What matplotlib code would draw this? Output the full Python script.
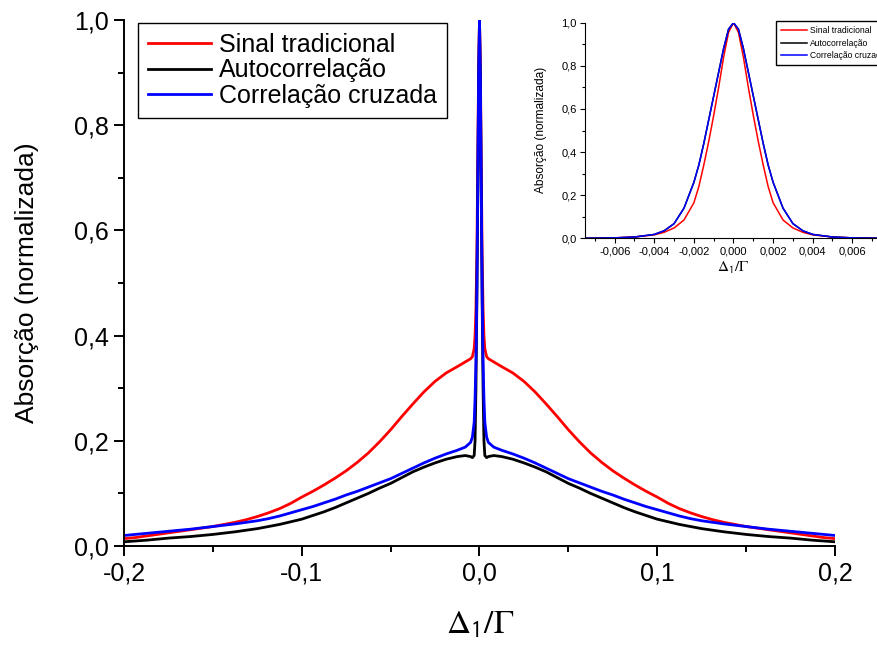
import matplotlib
matplotlib.use('Agg')
import matplotlib.pyplot as plt
from matplotlib.ticker import MultipleLocator, FuncFormatter

# main plot: detuning (Delta_1 / Gamma) and normalized absorption
X_MAIN = [-0.2, -0.19375, -0.1875, -0.18125, -0.175, -0.16875, -0.1625, -0.15625, -0.15, -0.14375,
          -0.1375, -0.13125, -0.125, -0.11875, -0.1125, -0.10625, -0.1, -0.09375, -0.0875, -0.08125,
          -0.075, -0.06875, -0.0625, -0.05625, -0.05, -0.04375, -0.0375, -0.03125, -0.025, -0.01875,
          -0.0125, -0.008, -0.005, -0.004, -0.003, -0.0025, -0.002, -0.0015, -0.001, -0.0005,
          0.0,
          0.0005, 0.001, 0.0015, 0.002, 0.0025, 0.003, 0.004, 0.005, 0.008, 0.0125,
          0.01875, 0.025, 0.03125, 0.0375, 0.04375, 0.05, 0.05625, 0.0625, 0.06875, 0.075,
          0.08125, 0.0875, 0.09375, 0.1, 0.10625, 0.1125, 0.11875, 0.125, 0.13125, 0.1375,
          0.14375, 0.15, 0.15625, 0.1625, 0.16875, 0.175, 0.18125, 0.1875, 0.19375, 0.2]
SINAL = [0.014, 0.016, 0.019, 0.022, 0.025, 0.028, 0.031, 0.034, 0.037, 0.041,
         0.045, 0.050, 0.056, 0.063, 0.071, 0.081, 0.093, 0.104, 0.116, 0.129,
         0.143, 0.159, 0.177, 0.198, 0.221, 0.246, 0.270, 0.293, 0.313, 0.329,
         0.341, 0.350, 0.356, 0.360, 0.375, 0.40, 0.45, 0.55, 0.72, 0.91,
         1.0,
         0.91, 0.72, 0.55, 0.45, 0.40, 0.375, 0.360, 0.356, 0.350, 0.341,
         0.329, 0.313, 0.293, 0.270, 0.246, 0.221, 0.198, 0.177, 0.159, 0.143,
         0.129, 0.116, 0.104, 0.093, 0.081, 0.071, 0.063, 0.056, 0.050, 0.045,
         0.041, 0.037, 0.034, 0.031, 0.028, 0.025, 0.022, 0.019, 0.016, 0.014]
AUTO = [0.008, 0.0095, 0.011, 0.013, 0.015, 0.0165, 0.018, 0.020, 0.022, 0.0245,
        0.027, 0.030, 0.033, 0.037, 0.041, 0.046, 0.051, 0.058, 0.065, 0.073,
        0.082, 0.091, 0.100, 0.110, 0.119, 0.130, 0.141, 0.150, 0.158, 0.165,
        0.170, 0.172, 0.170, 0.168, 0.172, 0.20, 0.30, 0.46, 0.66, 0.88,
        1.0,
        0.88, 0.66, 0.46, 0.30, 0.20, 0.172, 0.168, 0.170, 0.172, 0.170,
        0.165, 0.158, 0.150, 0.141, 0.130, 0.119, 0.110, 0.100, 0.091, 0.082,
        0.073, 0.065, 0.058, 0.051, 0.046, 0.041, 0.037, 0.033, 0.030, 0.027,
        0.0245, 0.022, 0.020, 0.018, 0.0165, 0.015, 0.013, 0.011, 0.0095, 0.008]
CRUZ = [0.020, 0.022, 0.024, 0.026, 0.028, 0.030, 0.032, 0.0345, 0.037, 0.0395,
        0.042, 0.045, 0.048, 0.052, 0.057, 0.063, 0.069, 0.075, 0.082, 0.089,
        0.097, 0.104, 0.112, 0.120, 0.128, 0.138, 0.148, 0.158, 0.167, 0.175,
        0.182, 0.188, 0.197, 0.207, 0.235, 0.28, 0.35, 0.48, 0.68, 0.89,
        1.0,
        0.89, 0.68, 0.48, 0.35, 0.28, 0.235, 0.207, 0.197, 0.188, 0.182,
        0.175, 0.167, 0.158, 0.148, 0.138, 0.128, 0.120, 0.112, 0.104, 0.097,
        0.089, 0.082, 0.075, 0.069, 0.063, 0.057, 0.052, 0.048, 0.045, 0.042,
        0.0395, 0.037, 0.0345, 0.032, 0.030, 0.028, 0.026, 0.024, 0.022, 0.020]

# inset: zoom on the narrow central peak
X_INSET = [-0.0075, -0.006, -0.005, -0.004, -0.0035, -0.003, -0.0025, -0.002, -0.00175, -0.0015,
           -0.00125, -0.001, -0.00075, -0.0005, -0.00025, 0.0, 0.00025, 0.0005, 0.00075, 0.001,
           0.00125, 0.0015, 0.00175, 0.002, 0.0025, 0.003, 0.0035, 0.004, 0.005, 0.006, 0.0075]
SINAL_IN = [0.0, 0.002, 0.006, 0.016, 0.028, 0.048, 0.085, 0.165, 0.24, 0.34,
            0.45, 0.57, 0.70, 0.84, 0.955, 1.0, 0.955, 0.84, 0.70, 0.57,
            0.45, 0.34, 0.24, 0.165, 0.085, 0.048, 0.028, 0.016, 0.006, 0.002, 0.0]
AUTO_IN = [0.0, 0.002, 0.006, 0.018, 0.035, 0.068, 0.14, 0.26, 0.34, 0.44,
           0.55, 0.66, 0.77, 0.88, 0.97, 1.0, 0.97, 0.88, 0.77, 0.66,
           0.55, 0.44, 0.34, 0.26, 0.14, 0.068, 0.035, 0.018, 0.006, 0.002, 0.0]
CRUZ_IN = [0.0, 0.002, 0.006, 0.018, 0.035, 0.068, 0.14, 0.26, 0.34, 0.44,
           0.55, 0.66, 0.77, 0.88, 0.97, 1.0, 0.97, 0.88, 0.77, 0.66,
           0.55, 0.44, 0.34, 0.26, 0.14, 0.068, 0.035, 0.018, 0.006, 0.002, 0.0]

LABELS = ['Sinal tradicional', 'Autocorrelação', 'Correlação cruzada']
COLORS = ['#ff0000', '#000000', '#0000ff']

plt.rcParams['font.family'] = ['Liberation Sans', 'DejaVu Sans']
plt.rcParams['mathtext.fontset'] = 'stix'

W, H = 878, 651
fig = plt.figure(figsize=(W / 100, H / 100), dpi=100)


def comma(fmt):
    return FuncFormatter(lambda v, p: fmt.format(v).replace('.', ','))


def style(ax, lw, major, minor, fs, pad):
    for s in ['top', 'right']:
        ax.spines[s].set_visible(False)
    for s in ['left', 'bottom']:
        ax.spines[s].set_linewidth(lw)
    ax.tick_params(which='major', direction='out', length=major, width=lw, labelsize=fs, pad=pad)
    ax.tick_params(which='minor', direction='out', length=minor, width=lw)


# main axes
ax = fig.add_axes([124 / W, 1 - 546 / H, 711 / W, 526 / H])
for y, c, lab in zip([SINAL, AUTO, CRUZ], COLORS, LABELS):
    ax.plot(X_MAIN, y, color=c, lw=2.0, label=lab)
ax.set_xlim(-0.2, 0.2)
ax.set_ylim(0, 1.0)
ax.xaxis.set_major_locator(MultipleLocator(0.1))
ax.xaxis.set_minor_locator(MultipleLocator(0.05))
ax.yaxis.set_major_locator(MultipleLocator(0.2))
ax.yaxis.set_minor_locator(MultipleLocator(0.1))
ax.xaxis.set_major_formatter(comma('{:.1f}'))
ax.yaxis.set_major_formatter(comma('{:.1f}'))
style(ax, 1.4, 7, 4, 18, 4)
fig.legend(loc='upper left', bbox_to_anchor=(138 / W, 1 - 23 / H), fontsize=18,
           frameon=True, fancybox=False, edgecolor='black', framealpha=1,
           handlelength=2.5, handletextpad=0.35, labelspacing=0.05,
           borderpad=0.4, borderaxespad=0)
fig.text(27 / W, 1 - 283 / H, 'Absorção (normalizada)', rotation=90,
         ha='center', va='center', fontsize=19)
fig.text(480 / W, 1 - 625 / H, r'$\Delta_{\mathsf{1}}/\Gamma$', ha='center', va='center',
         fontsize=24)

# inset axes
ins = fig.add_axes([585 / W, 1 - 238.3 / H, 297 / W, 215.6 / H])
for y, c in zip([SINAL_IN, AUTO_IN, CRUZ_IN], COLORS):
    ins.plot(X_INSET, y, color=c, lw=1.1)
ins.set_xlim(-0.0075, 0.0075)
ins.set_ylim(0, 1.0)
ins.xaxis.set_major_locator(MultipleLocator(0.002))
ins.xaxis.set_minor_locator(MultipleLocator(0.001))
ins.yaxis.set_major_locator(MultipleLocator(0.2))
ins.yaxis.set_minor_locator(MultipleLocator(0.1))
ins.xaxis.set_major_formatter(comma('{:.3f}'))
ins.yaxis.set_major_formatter(comma('{:.1f}'))
style(ins, 0.8, 3.5, 2, 8, 2.5)
ins.legend(LABELS, loc='upper left', bbox_to_anchor=(776 / W, 1 - 21 / H),
           bbox_transform=fig.transFigure, fontsize=6.2, frameon=True, fancybox=False,
           edgecolor='black', framealpha=1, handlelength=3.0, handletextpad=0.3,
           labelspacing=0.4, borderpad=0.6, borderaxespad=0)
fig.text(541 / W, 1 - 130 / H, 'Absorção (normalizada)', rotation=90,
         ha='center', va='center', fontsize=8.6)
fig.text(733 / W, 1 - 268 / H, r'$\Delta_{\mathsf{1}}/\Gamma$', ha='center', va='center',
         fontsize=11)

fig.savefig('out.png', dpi=100)
